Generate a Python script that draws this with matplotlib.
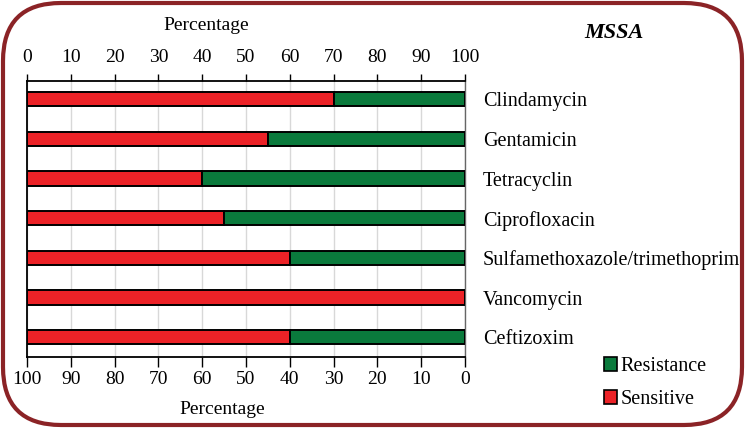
import matplotlib
matplotlib.use("Agg")
import matplotlib.pyplot as plt
from matplotlib.patches import FancyBboxPatch, Patch

drugs = ["Clindamycin", "Gentamicin", "Tetracyclin", "Ciprofloxacin",
         "Sulfamethoxazole/trimethoprim", "Vancomycin", "Ceftizoxim"]
sensitive = [70, 55, 40, 45, 60, 100, 60]
resistance = [30, 45, 60, 55, 40, 0, 40]
ticks = [0, 10, 20, 30, 40, 50, 60, 70, 80, 90, 100]

RED = "#ec2227"
GREEN = "#0a7a3c"
FRAME = "#8b2326"

plt.rcParams["font.family"] = ["Liberation Serif", "DejaVu Serif"]

fig = plt.figure(figsize=(7.45, 4.28), dpi=100)
W, H = 745, 428
ax = fig.add_axes([27 / W, 1 - 357 / H, (465 - 27) / W, (357 - 81) / H])

y = list(range(len(drugs)))
ax.barh(y, sensitive, height=0.36, color=RED, edgecolor="black", linewidth=1.4, zorder=3)
ax.barh(y, resistance, left=sensitive, height=0.36, color=GREEN, edgecolor="black",
        linewidth=1.4, zorder=3)

ax.set_xlim(0, 100)
ax.set_ylim(6.5, -0.46)
ax.set_xticks(ticks)
ax.xaxis.tick_top()
ax.tick_params(axis="x", direction="out", length=5, width=1, labelsize=14, pad=6, colors="black")
ax.grid(axis="x", color="#d8d8d8", linewidth=1, zorder=0)

ax.yaxis.tick_right()
ax.set_yticks(y)
ax.set_yticklabels(drugs, fontsize=14.5)
ax.tick_params(axis="y", length=0, pad=13)

for s in ["top", "bottom", "left"]:
    ax.spines[s].set_linewidth(1.3)
    ax.spines[s].set_color("black")
ax.spines["right"].set_color("#666666")
ax.spines["right"].set_linewidth(1)

sec = ax.secondary_xaxis("bottom", functions=(lambda v: 100 - v, lambda v: 100 - v))
sec.set_xticks(ticks)
sec.tick_params(direction="out", length=7, width=1, labelsize=14, pad=3)
sec.spines["bottom"].set_visible(False)

fig.text(206 / W, 1 - 25 / H, "Percentage", ha="center", va="center", fontsize=14)
fig.text(222 / W, 1 - 410 / H, "Percentage", ha="center", va="center", fontsize=14)
fig.text(614 / W, 1 - 33 / H, "MSSA", ha="center", va="center", fontsize=16,
         fontweight="bold", fontstyle="italic")

handles = [Patch(facecolor=GREEN, edgecolor="black", linewidth=1.2, label="Resistance"),
           Patch(facecolor=RED, edgecolor="black", linewidth=1.2, label="Sensitive")]
fig.legend(handles=handles, loc="upper left", bbox_to_anchor=(594 / W, 1 - 347 / H),
           frameon=False, fontsize=14.5, handlelength=0.65, handleheight=0.65,
           handletextpad=0.15, labelspacing=0.7, borderpad=0)

frame = FancyBboxPatch((3, 3), W - 6, H - 6, boxstyle="round,pad=0,rounding_size=58",
                       transform=None, facecolor="none", edgecolor=FRAME, linewidth=3)
fig.add_artist(frame)

fig.savefig("out.png", dpi=100)
